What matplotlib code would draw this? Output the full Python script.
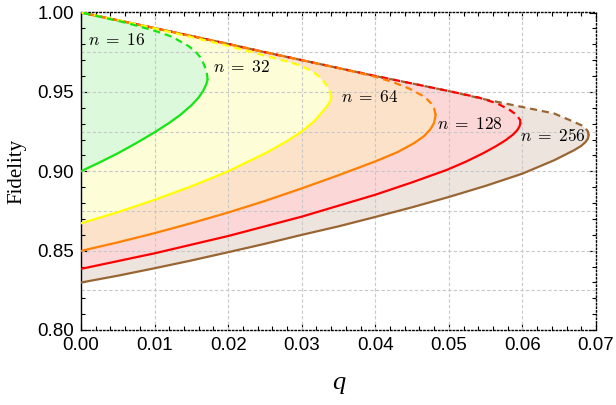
import matplotlib
matplotlib.use("Agg")
import matplotlib.pyplot as plt
from matplotlib.ticker import MultipleLocator

plt.rcParams['mathtext.fontset'] = 'cm'

# values: q (x) and Fidelity (y)
# lower branch (solid) from q = 0 to the turning point, upper branch (dashed) back to q = 0
n_labels = ["16", "32", "64", "128", "256"]

q16_low = [0.0, 0.0025, 0.0050, 0.0075, 0.0100, 0.0120, 0.0135, 0.0150, 0.0160, 0.0166, 0.0170, 0.0172]
F16_low = [0.900, 0.9055, 0.9113, 0.9177, 0.9245, 0.9305, 0.9355, 0.9415, 0.9465, 0.9506, 0.9545, 0.9575]
q16_up = [0.0172, 0.01715, 0.0170, 0.0166, 0.01615, 0.0155, 0.01456, 0.0135, 0.0123, 0.0110,
          0.0100, 0.0075, 0.0055, 0.0025, 0.0]
F16_up = [0.9575, 0.9605, 0.9638, 0.9685, 0.9722, 0.9757, 0.9790, 0.9818, 0.9848, 0.9870,
          0.9885, 0.9918, 0.9942, 0.9974, 1.0]

q32_low = [0.0, 0.005, 0.010, 0.015, 0.020, 0.025, 0.028, 0.030, 0.0318, 0.0330, 0.0336, 0.0339, 0.0340]
F32_low = [0.8672, 0.8742, 0.8820, 0.8905, 0.9000, 0.9112, 0.9190, 0.9250, 0.9320, 0.9385, 0.9420,
           0.9445, 0.9465]
q32_up = [0.0340, 0.0339, 0.0336, 0.0331, 0.0324, 0.0314, 0.0300, 0.0282, 0.0250, 0.0200,
          0.015, 0.010, 0.005, 0.0]
F32_up = [0.9465, 0.9490, 0.9525, 0.9560, 0.9595, 0.9630, 0.9662, 0.9690, 0.9728, 0.9790,
          0.9845, 0.9900, 0.9952, 1.0]

q64_low = [0.0, 0.005, 0.010, 0.015, 0.020, 0.025, 0.030, 0.035, 0.040, 0.0430, 0.0452,
           0.0466, 0.0475, 0.0480, 0.0482]
F64_low = [0.8498, 0.8552, 0.8610, 0.8673, 0.8740, 0.8813, 0.8892, 0.8975, 0.9062, 0.9120, 0.9175,
           0.9220, 0.9265, 0.9305, 0.9355]
q64_up = [0.0482, 0.0480, 0.0476, 0.0470, 0.0463, 0.0446, 0.0423, 0.0400, 0.035, 0.030, 0.025,
          0.020, 0.015, 0.010, 0.005, 0.0]
F64_up = [0.9355, 0.9395, 0.9427, 0.9455, 0.9479, 0.9521, 0.9563, 0.9595, 0.9650, 0.9700, 0.9750,
          0.9802, 0.9852, 0.9902, 0.9951, 1.0]

q128_low = [0.0, 0.010, 0.020, 0.030, 0.040, 0.0450, 0.0497, 0.0523, 0.0546, 0.0563,
            0.0577, 0.0587, 0.0593, 0.0596, 0.0597]
F128_low = [0.8385, 0.8483, 0.8592, 0.8714, 0.8852, 0.8930, 0.9008, 0.9060, 0.9112, 0.9155,
            0.9195, 0.9230, 0.9259, 0.9282, 0.9300]
q128_up = [0.0597, 0.0597, 0.0594, 0.0589, 0.0583, 0.0566, 0.0540, 0.050, 0.045, 0.040, 0.035,
           0.030, 0.025, 0.020, 0.015, 0.010, 0.005, 0.0]
F128_up = [0.9300, 0.9322, 0.9342, 0.9365, 0.9385, 0.9427, 0.9465, 0.9505, 0.9553, 0.9600, 0.9650,
           0.9700, 0.9750, 0.9802, 0.9852, 0.9902, 0.9951, 1.0]

q256_low = [0.0, 0.005, 0.010, 0.015, 0.020, 0.025, 0.0298, 0.035, 0.040, 0.045, 0.050,
            0.055, 0.060, 0.0643, 0.0670, 0.0680, 0.0686, 0.0689, 0.0690]
F256_low = [0.8299, 0.8342, 0.8389, 0.8438, 0.8490, 0.8543, 0.8597, 0.8653, 0.8712, 0.8773, 0.8838,
            0.8908, 0.8985, 0.9069, 0.9132, 0.9160, 0.9185, 0.9205, 0.9227]
q256_up = [0.0690, 0.0689, 0.0686, 0.0680, 0.0670, 0.0643, 0.0605, 0.055, 0.050, 0.045, 0.040,
           0.035, 0.030, 0.025, 0.020, 0.015, 0.010, 0.005, 0.0]
F256_up = [0.9227, 0.9250, 0.9269, 0.9290, 0.9311, 0.9364, 0.9400, 0.9452, 0.9505, 0.9553, 0.9600,
           0.9650, 0.9700, 0.9750, 0.9802, 0.9852, 0.9902, 0.9951, 1.0]

# label positions (left edge, centre)
label_q = [0.0010, 0.0180, 0.0354, 0.0484, 0.0597]
label_F = [0.9827, 0.9657, 0.947, 0.930, 0.9222]

curves = [
    (q16_low, F16_low, q16_up, F16_up),
    (q32_low, F32_low, q32_up, F32_up),
    (q64_low, F64_low, q64_up, F64_up),
    (q128_low, F128_low, q128_up, F128_up),
    (q256_low, F256_low, q256_up, F256_up),
]
line_colors = ["#14e614", "#ffff00", "#ff8000", "#ff0000", "#996633"]
fill_colors = ["#dcf9dc", "#fdfdd7", "#fce2c9", "#fcd7d7", "#ede4de"]

fig = plt.figure(figsize=(6.16, 4.05), dpi=100)
ax = fig.add_axes([81 / 616, 1 - 330 / 405, 515 / 616, 317.5 / 405])

# fills, biggest region first
for i in range(4, -1, -1):
    ql, Fl, qu, Fu = curves[i]
    ax.fill(ql + qu, Fl + Fu, color=fill_colors[i], lw=0, zorder=1)

# grid
for x in [0.01, 0.02, 0.03, 0.04, 0.05, 0.06]:
    ax.axvline(x, color="#c8c8c8", lw=0.8, ls=(0, (3, 2)), zorder=2)
for y in [0.825, 0.85, 0.875, 0.90, 0.925, 0.95, 0.975]:
    ax.axhline(y, color="#c8c8c8", lw=0.8, ls=(0, (3, 2)), zorder=2)

# curves
for i in range(4, -1, -1):
    ql, Fl, qu, Fu = curves[i]
    ax.plot(ql, Fl, color=line_colors[i], lw=1.6, zorder=3, solid_joinstyle="round")
    ax.plot(qu, Fu, color=line_colors[i], lw=1.6, ls=(0, (3.2, 2.2)), zorder=3)

for i in range(5):
    ax.text(label_q[i], label_F[i], r"$n\;=\;" + n_labels[i] + "$", fontsize=12.5,
            ha="left", va="center", zorder=4)

ax.set_xlim(0, 0.07)
ax.set_ylim(0.80, 1.00)
ax.xaxis.set_major_locator(MultipleLocator(0.01))
ax.xaxis.set_minor_locator(MultipleLocator(0.002))
ax.yaxis.set_major_locator(MultipleLocator(0.05))
ax.yaxis.set_minor_locator(MultipleLocator(0.01))
ax.set_xticklabels([f"{v:.2f}" for v in ax.get_xticks()])
ax.set_yticklabels([f"{v:.2f}" for v in ax.get_yticks()])
ax.tick_params(which="both", direction="in", top=True, right=True, labelsize=13.5,
               colors="black", width=0.8)
ax.tick_params(which="major", length=5, pad=5)
ax.tick_params(which="minor", length=3)
for lab in ax.get_xticklabels() + ax.get_yticklabels():
    lab.set_family("Liberation Sans")

for side in ["top", "right", "bottom"]:
    ax.spines[side].set_linestyle(":")
    ax.spines[side].set_linewidth(1.0)
ax.spines["left"].set_linewidth(1.0)

ax.set_ylabel("Fidelity", family="Liberation Serif", fontsize=15, labelpad=8)
ax.set_xlabel("q", family="Liberation Serif", style="italic", fontsize=19, labelpad=13)

fig.savefig("out.png", dpi=100)
